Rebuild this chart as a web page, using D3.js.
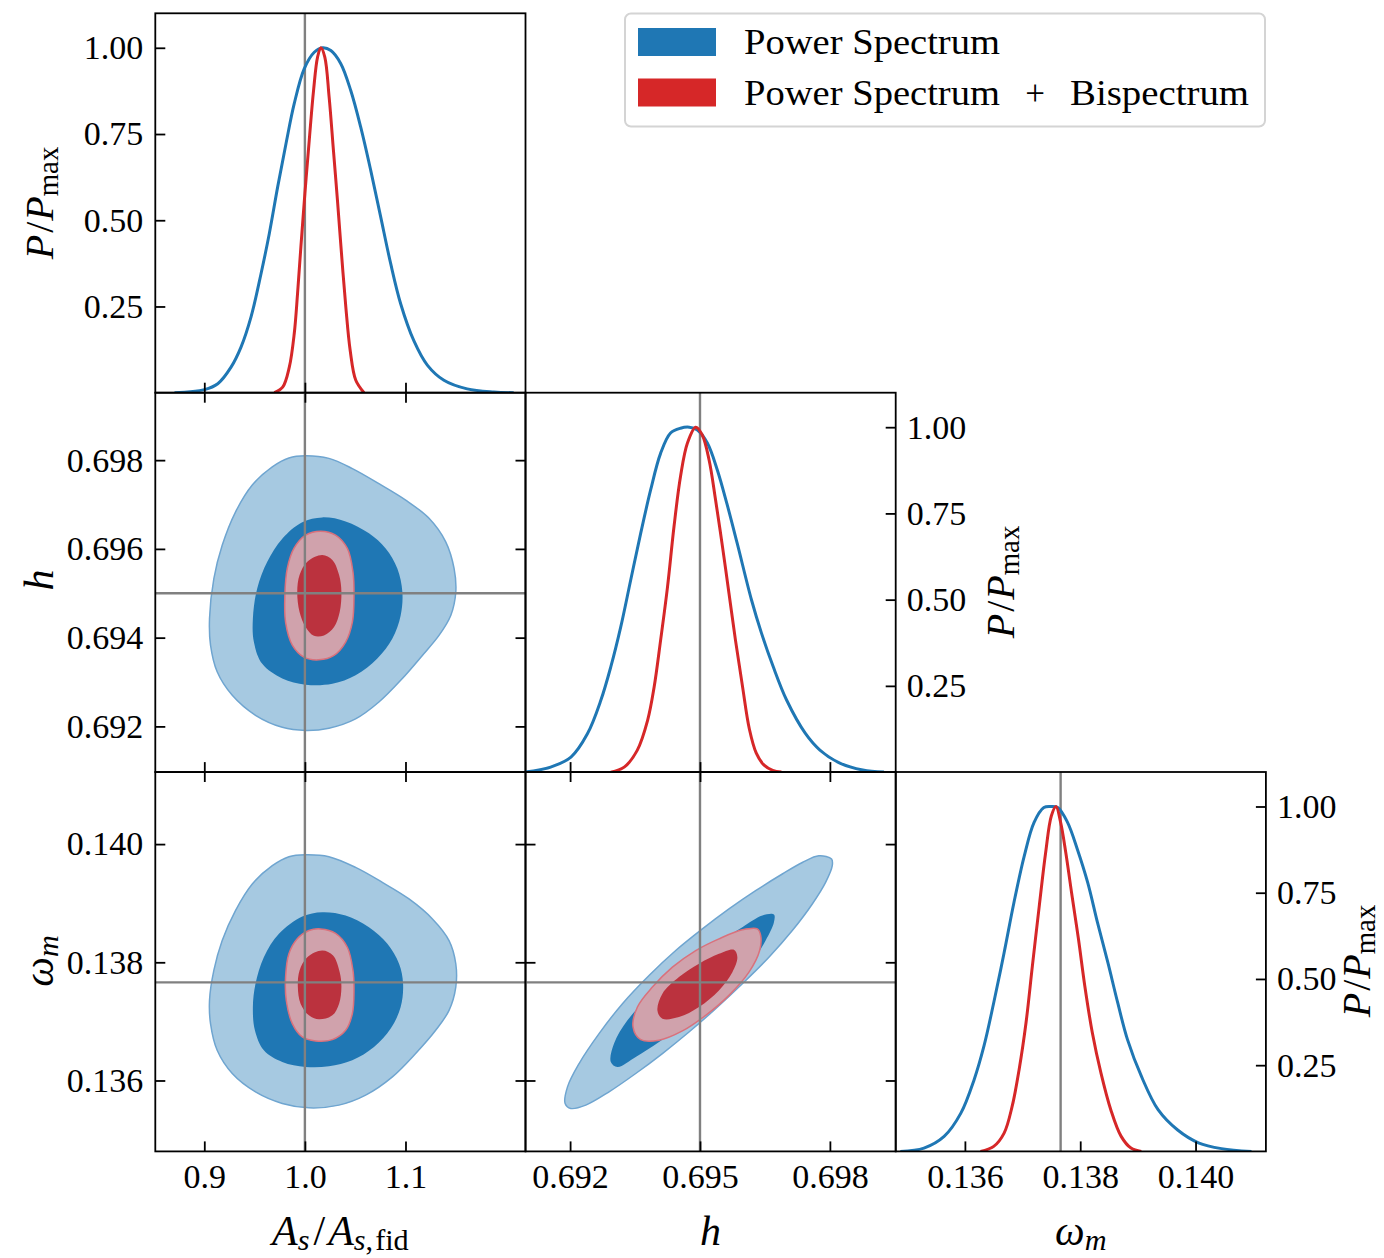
<!DOCTYPE html>
<html>
<head>
<meta charset="utf-8">
<script src="https://cdn.jsdelivr.net/npm/d3@7"></script>
<style>
  body { margin: 0; background: #fff; }
  svg text { font-family: "Liberation Serif", "DejaVu Serif", serif; fill: #000; }
</style>
</head>
<body>
<svg id="chart" width="1384" height="1258"></svg>
<script>
// ---------------- data ----------------
// fiducial parameter values
const fidA = 1.0;
const fidH = 0.695;
const fidOm = 0.13766;

// axis ranges
const aDomain = [0.8513, 1.2193];
const hDomain = [0.69097, 0.69952];
const omDomain = [0.1348, 0.14122];
const pDomain = [0, 1.1];

// tick values
const aTicks = [0.9, 1.0, 1.1];
const hTicksX = [0.692, 0.695, 0.698];
const hTicksY = [0.692, 0.694, 0.696, 0.698];
const omTicks = [0.136, 0.138, 0.140];
const pTicks = [0.25, 0.5, 0.75, 1.0];

// series names
const seriesNames = ["Power Spectrum", "Power Spectrum + Bispectrum"];

// 1D marginals: [parameter, P/Pmax]
const psA1d = [[0.8704,0],[0.9002,0.009],[0.9134,0.026],[0.9266,0.074],[0.9365,0.132],[0.9464,0.219],[0.9564,0.345],[0.9646,0.461],[0.9729,0.596],[0.9812,0.722],[0.9894,0.838],[0.9993,0.939],[1.0093,0.987],[1.0175,1.0],[1.0258,0.992],[1.0357,0.954],[1.0456,0.876],[1.0555,0.770],[1.0655,0.644],[1.0754,0.509],[1.0853,0.374],[1.0952,0.258],[1.1084,0.150],[1.1217,0.080],[1.1382,0.036],[1.1613,0.011],[1.1878,0.002],[1.2076,0]];
const pbA1d = [[0.9696,0],[0.9779,0.016],[0.9845,0.074],[0.9894,0.171],[0.9927,0.287],[0.996,0.422],[1.0,0.577],[1.0043,0.731],[1.0086,0.876],[1.0126,0.973],[1.0159,1.0],[1.0198,0.973],[1.0241,0.857],[1.0284,0.702],[1.0324,0.557],[1.0364,0.403],[1.0407,0.248],[1.045,0.123],[1.0506,0.036],[1.0588,0]];

const psH1d = [[0.69094,0],[0.69155,0.0145],[0.69202,0.0436],[0.6924,0.111],[0.69271,0.208],[0.69294,0.305],[0.69317,0.421],[0.6934,0.557],[0.69363,0.692],[0.69386,0.818],[0.69409,0.924],[0.69432,0.983],[0.69455,0.997],[0.69475,1.0],[0.69494,0.992],[0.69517,0.954],[0.6954,0.876],[0.69562,0.779],[0.69586,0.663],[0.69619,0.499],[0.69642,0.403],[0.69669,0.306],[0.697,0.209],[0.69743,0.113],[0.69777,0.064],[0.69823,0.026],[0.69876,0.006],[0.69925,0]];
const pbH1d = [[0.69294,0],[0.69325,0.0145],[0.69355,0.063],[0.69379,0.15],[0.69394,0.246],[0.69409,0.382],[0.69425,0.537],[0.6944,0.712],[0.69455,0.857],[0.69471,0.954],[0.6949,1.0],[0.69505,0.978],[0.69521,0.905],[0.69536,0.789],[0.69552,0.653],[0.69567,0.518],[0.69582,0.382],[0.69598,0.25],[0.69614,0.125],[0.6963,0.055],[0.69648,0.02],[0.69668,0.005],[0.69688,0]];

const psOm1d = [[0.13488,0],[0.13529,0.0097],[0.13564,0.0436],[0.13593,0.111],[0.13616,0.208],[0.13633,0.305],[0.1365,0.431],[0.13668,0.576],[0.13685,0.721],[0.13703,0.857],[0.1372,0.954],[0.13737,0.997],[0.13749,1.0],[0.13761,0.997],[0.13778,0.954],[0.13795,0.876],[0.13813,0.779],[0.1383,0.663],[0.13848,0.547],[0.13865,0.431],[0.13882,0.324],[0.13906,0.218],[0.13935,0.121],[0.13969,0.062],[0.14005,0.025],[0.14045,0.008],[0.14097,0]];
const pbOm1d = [[0.13627,0],[0.1365,0.0145],[0.13668,0.053],[0.13682,0.131],[0.13694,0.237],[0.13706,0.373],[0.13717,0.537],[0.13729,0.712],[0.1374,0.866],[0.1375,0.973],[0.13758,1.0],[0.13766,0.954],[0.13775,0.866],[0.13785,0.75],[0.13797,0.615],[0.13808,0.479],[0.13821,0.344],[0.13836,0.227],[0.13853,0.121],[0.13871,0.0436],[0.13888,0.0097],[0.13906,0]];

// 2D credible regions (outer = 95%, inner = 68%)
const psAh95 = [[1.0007,0.69810],[1.0239,0.69804],[1.0472,0.69781],[1.0736,0.69747],[1.1002,0.69710],[1.1234,0.69669],[1.1400,0.69616],[1.1483,0.69556],[1.1500,0.69503],[1.1450,0.69450],[1.1333,0.69405],[1.1168,0.69360],[1.0969,0.69308],[1.0736,0.69255],[1.0504,0.69217],[1.0239,0.69196],[1.0007,0.69191],[0.9775,0.69198],[0.9509,0.69225],[0.9278,0.69270],[0.9128,0.69323],[0.9062,0.69383],[0.9052,0.69443],[0.9095,0.69533],[0.9178,0.69608],[0.9310,0.69683],[0.9477,0.69744],[0.9676,0.69785],[0.9841,0.69805]];
const psAh68 = [[1.0173,0.69671],[1.0405,0.69662],[1.0637,0.69635],[1.0803,0.69601],[1.0919,0.69556],[1.0969,0.69503],[1.0952,0.69450],[1.0870,0.69398],[1.0720,0.69353],[1.0504,0.69315],[1.0273,0.69296],[1.0007,0.69294],[0.9775,0.69308],[0.9576,0.69341],[0.9493,0.69390],[0.9483,0.69443],[0.9526,0.69511],[0.9626,0.69571],[0.9775,0.69623],[0.9974,0.69660]];
const pbAh95 = [[1.0156,0.69640],[1.0305,0.69631],[1.0422,0.69601],[1.0478,0.69548],[1.0488,0.69496],[1.0472,0.69435],[1.0405,0.69390],[1.0289,0.69360],[1.0139,0.69350],[0.9990,0.69356],[0.9875,0.69383],[0.9808,0.69435],[0.9801,0.69496],[0.9825,0.69556],[0.9891,0.69601],[1.0007,0.69631]];
const pbAh68 = [[1.0173,0.69586],[1.0273,0.69575],[1.0340,0.69541],[1.0363,0.69503],[1.0346,0.69458],[1.0290,0.69424],[1.0190,0.69405],[1.0090,0.69404],[1.0007,0.69424],[0.9947,0.69458],[0.9924,0.69503],[0.9947,0.69541],[1.0024,0.69571]];

const psAom95 = [[1.0007,0.139819],[1.0239,0.139786],[1.0504,0.139605],[1.0770,0.139352],[1.1035,0.139072],[1.1268,0.138734],[1.1433,0.138368],[1.1500,0.137975],[1.1500,0.137580],[1.1433,0.137186],[1.1300,0.136849],[1.1101,0.136456],[1.0870,0.136061],[1.0604,0.135752],[1.0338,0.135583],[1.0040,0.135538],[0.9775,0.135612],[0.9509,0.135807],[0.9278,0.136118],[0.9128,0.136511],[0.9062,0.136962],[0.9052,0.137355],[0.9095,0.137862],[0.9178,0.138368],[0.9310,0.138875],[0.9477,0.139325],[0.9676,0.139634],[0.9841,0.139786]];
const psAom68 = [[1.0173,0.138846],[1.0405,0.138790],[1.0637,0.138593],[1.0820,0.138312],[1.0936,0.137975],[1.0976,0.137637],[1.0952,0.137243],[1.0853,0.136878],[1.0687,0.136567],[1.0471,0.136343],[1.0239,0.136241],[1.0007,0.136230],[0.9775,0.136314],[0.9592,0.136511],[0.9503,0.136849],[0.9483,0.137243],[0.9509,0.137637],[0.9592,0.138086],[0.9742,0.138481],[0.9974,0.138773]];
const pbAom95 = [[1.0156,0.138565],[1.0305,0.138491],[1.0422,0.138255],[1.0478,0.137862],[1.0488,0.137524],[1.0472,0.137131],[1.0405,0.136849],[1.0273,0.136692],[1.0106,0.136669],[0.9974,0.136736],[0.9875,0.136962],[0.9815,0.137355],[0.9808,0.137749],[0.9841,0.138143],[0.9924,0.138397],[1.0040,0.138537]];
const pbAom68 = [[1.0173,0.138199],[1.0280,0.138115],[1.0346,0.137833],[1.0363,0.137580],[1.0340,0.137300],[1.0273,0.137102],[1.0139,0.137035],[1.0040,0.137102],[0.9957,0.137300],[0.9930,0.137580],[0.9947,0.137862],[1.0024,0.138086]];

const psHom95 = [[0.698039,0.139747],[0.697746,0.139803],[0.697363,0.139689],[0.696901,0.139494],[0.696285,0.139212],[0.695669,0.138903],[0.695055,0.138565],[0.694439,0.138199],[0.693823,0.137777],[0.693209,0.137300],[0.692669,0.136793],[0.692208,0.136287],[0.691940,0.135892],[0.691885,0.135612],[0.692016,0.135527],[0.692362,0.135583],[0.692900,0.135808],[0.693516,0.136118],[0.694132,0.136456],[0.694746,0.136820],[0.695362,0.137215],[0.695978,0.137637],[0.696592,0.138086],[0.697132,0.138537],[0.697594,0.138987],[0.697901,0.139352],[0.698055,0.139634]];
const psHom68 = [[0.696708,0.138807],[0.696440,0.138790],[0.695978,0.138593],[0.695438,0.138339],[0.694901,0.138059],[0.694363,0.137749],[0.693823,0.137411],[0.693325,0.137018],[0.693015,0.136624],[0.692940,0.136314],[0.693094,0.136230],[0.693516,0.136398],[0.694054,0.136651],[0.694594,0.136933],[0.695132,0.137243],[0.695669,0.137580],[0.696170,0.137975],[0.696516,0.138368],[0.696708,0.138677]];
const pbHom95 = [[0.696324,0.138565],[0.695978,0.138549],[0.695438,0.138397],[0.694901,0.138199],[0.694363,0.137917],[0.693901,0.137580],[0.693555,0.137243],[0.693454,0.136905],[0.693632,0.136692],[0.694054,0.136681],[0.694594,0.136838],[0.695132,0.137102],[0.695669,0.137440],[0.696131,0.137833],[0.696378,0.138199],[0.696401,0.138453]];
const pbHom68 = [[0.695785,0.138211],[0.695438,0.138143],[0.694977,0.137975],[0.694515,0.137749],[0.694132,0.137468],[0.694017,0.137186],[0.694132,0.137046],[0.694515,0.137073],[0.694977,0.137243],[0.695438,0.137524],[0.695748,0.137833],[0.695863,0.138086]];

// ---------------- layout & style ----------------
const BLUE = "#1f77b4", RED = "#d62728";
const style = {
  ps95: { fill: "#a6c9e1", stroke: "#6fa5d0" },
  ps68: { fill: "#1f77b4", stroke: "none" },
  pb95: { fill: "#d0a2ac", stroke: "#d9717c" },
  pb68: { fill: "#bb323e", stroke: "none" }
};
const colX = [155.3, 525.5, 895.7], pw = 370.2;
const rowY = [13.3, 392.7, 772.0], ph = 379.4;
const tickLen = 10, tickPad = 12, tickFont = 34, labelFont = 42;

const svg = d3.select("#chart");

const xA = d3.scaleLinear().domain(aDomain).range([colX[0], colX[0] + pw]);
const xH = d3.scaleLinear().domain(hDomain).range([colX[1], colX[1] + pw]);
const xOm = d3.scaleLinear().domain(omDomain).range([colX[2], colX[2] + pw]);
const yH = d3.scaleLinear().domain(hDomain).range([rowY[1] + ph, rowY[1]]);
const yOm = d3.scaleLinear().domain(omDomain).range([rowY[2] + ph, rowY[2]]);
const yP = r => d3.scaleLinear().domain(pDomain).range([rowY[r] + ph, rowY[r]]);

const panels = [
  { r: 0, c: 0, kind: "1d", x: xA, y: yP(0), xt: aTicks, yt: pTicks, xf: ".1f", yf: ".2f", ps: psA1d, pb: pbA1d, fx: fidA },
  { r: 1, c: 0, kind: "2d", x: xA, y: yH, xt: aTicks, yt: hTicksY, xf: ".1f", yf: ".3f",
    regions: [[psAh95, "ps95"], [psAh68, "ps68"], [pbAh95, "pb95"], [pbAh68, "pb68"]], fx: fidA, fy: fidH },
  { r: 1, c: 1, kind: "1d", x: xH, y: yP(1), xt: hTicksX, yt: pTicks, xf: ".3f", yf: ".2f", ps: psH1d, pb: pbH1d, fx: fidH },
  { r: 2, c: 0, kind: "2d", x: xA, y: yOm, xt: aTicks, yt: omTicks, xf: ".1f", yf: ".3f",
    regions: [[psAom95, "ps95"], [psAom68, "ps68"], [pbAom95, "pb95"], [pbAom68, "pb68"]], fx: fidA, fy: fidOm },
  { r: 2, c: 1, kind: "2d", x: xH, y: yOm, xt: hTicksX, yt: omTicks, xf: ".3f", yf: ".3f",
    regions: [[psHom95, "ps95"], [psHom68, "ps68"], [pbHom95, "pb95"], [pbHom68, "pb68"]], fx: fidH, fy: fidOm },
  { r: 2, c: 2, kind: "1d", x: xOm, y: yP(2), xt: omTicks, yt: pTicks, xf: ".3f", yf: ".2f", ps: psOm1d, pb: pbOm1d, fx: fidOm }
];

const contourLine = (x, y) => d3.line().x(d => x(d[0])).y(d => y(d[1])).curve(d3.curveCatmullRomClosed.alpha(0.5));
const curveLine = (x, y) => d3.line().x(d => x(d[0])).y(d => y(d[1])).curve(d3.curveCatmullRom.alpha(0.5));

function styleAxis(g, showLabels) {
  g.select(".domain").remove();
  g.attr("font-family", null).attr("font-size", null);
  g.selectAll(".tick line").attr("stroke", "#000").attr("stroke-width", 1.8);
  g.selectAll(".tick text").attr("font-size", tickFont).attr("fill", "#000");
  if (!showLabels) g.selectAll(".tick text").remove();
}

panels.forEach((p, i) => {
  const x0 = colX[p.c], y0 = rowY[p.r];
  const g = svg.append("g");
  const clipId = "clip" + i;
  svg.append("clipPath").attr("id", clipId)
    .append("rect").attr("x", x0).attr("y", y0).attr("width", pw).attr("height", ph);
  const body = g.append("g").attr("clip-path", `url(#${clipId})`);

  const vLine = () => body.append("line").attr("x1", p.x(p.fx)).attr("x2", p.x(p.fx))
    .attr("y1", y0).attr("y2", y0 + ph).attr("stroke", "#808080").attr("stroke-width", 2.4);

  if (p.kind === "2d") {
    const line = contourLine(p.x, p.y);
    p.regions.forEach(([pts, key]) => {
      body.append("path").attr("d", line(pts))
        .attr("fill", style[key].fill)
        .attr("stroke", style[key].stroke)
        .attr("stroke-width", 1.5);
    });
    vLine();
    body.append("line").attr("y1", p.y(p.fy)).attr("y2", p.y(p.fy)).attr("x1", x0).attr("x2", x0 + pw)
      .attr("stroke", "#808080").attr("stroke-width", 2.4);
  } else {
    vLine();
    const line = curveLine(p.x, p.y);
    body.append("path").attr("d", line(p.ps)).attr("fill", "none").attr("stroke", BLUE)
      .attr("stroke-width", 3).attr("stroke-linejoin", "round");
    body.append("path").attr("d", line(p.pb)).attr("fill", "none").attr("stroke", RED)
      .attr("stroke-width", 3).attr("stroke-linejoin", "round");
  }

  // frame
  g.append("rect").attr("x", x0).attr("y", y0).attr("width", pw).attr("height", ph)
    .attr("fill", "none").attr("stroke", "#000").attr("stroke-width", 1.8);

  // bottom ticks (every panel), labelled on the bottom row
  const bottom = g.append("g").attr("transform", `translate(0,${y0 + ph})`)
    .call(d3.axisBottom(p.x).tickValues(p.xt).tickFormat(d3.format(p.xf)).tickSize(-tickLen).tickPadding(tickPad));
  styleAxis(bottom, p.r === 2);

  if (p.kind === "2d") {
    const top = g.append("g").attr("transform", `translate(0,${y0})`)
      .call(d3.axisTop(p.x).tickValues(p.xt).tickSize(-tickLen));
    styleAxis(top, false);
    const left = g.append("g").attr("transform", `translate(${x0},0)`)
      .call(d3.axisLeft(p.y).tickValues(p.yt).tickFormat(d3.format(p.yf)).tickSize(-tickLen).tickPadding(tickPad));
    styleAxis(left, p.c === 0);
    const right = g.append("g").attr("transform", `translate(${x0 + pw},0)`)
      .call(d3.axisRight(p.y).tickValues(p.yt).tickSize(-tickLen));
    styleAxis(right, false);
  } else if (p.c === 0) {
    const left = g.append("g").attr("transform", `translate(${x0},0)`)
      .call(d3.axisLeft(p.y).tickValues(p.yt).tickFormat(d3.format(p.yf)).tickSize(-tickLen).tickPadding(tickPad));
    styleAxis(left, true);
  } else {
    const right = g.append("g").attr("transform", `translate(${x0 + pw},0)`)
      .call(d3.axisRight(p.y).tickValues(p.yt).tickFormat(d3.format(p.yf)).tickSize(-tickLen).tickPadding(tickPad - 1));
    styleAxis(right, true);
  }
});

// ---------------- axis titles ----------------
const subShift = 5;
function mathText(x, y, rot, segs, size) {
  const t = svg.append("text")
    .attr("transform", `translate(${x},${y}) rotate(${rot})`)
    .attr("text-anchor", "middle").attr("font-size", size);
  let shifted = 0;
  segs.forEach(s => {
    const sp = t.append("tspan").text(s.t);
    if (s.it) sp.attr("font-style", "italic");
    const want = s.sub ? subShift : 0;
    if (want !== shifted) { sp.attr("dy", want - shifted); shifted = want; }
    if (s.sub) sp.attr("font-size", size * 0.72);
    if (s.dx) sp.attr("dx", s.dx);
  });
  return t;
}
const pLabel = [{ t: "P", it: 1 }, { t: "/", dx: 2 }, { t: "P", it: 1, dx: 1 }, { t: "max", sub: 1 }];
const aLabel = [{ t: "A", it: 1 }, { t: "s", it: 1, sub: 1 }, { t: "/", dx: 4 }, { t: "A", it: 1, dx: 3 }, { t: "s", it: 1, sub: 1 }, { t: ",", sub: 1 }, { t: "fid", sub: 1, dx: 2 }];
const hLabel = [{ t: "h", it: 1 }];
const omLabel = [{ t: "ω", it: 1 }, { t: "m", it: 1, sub: 1 }];

mathText(53, 203, -90, pLabel, 40);
mathText(53, 580, -90, hLabel, labelFont);
mathText(53, 961, -90, omLabel, labelFont);
mathText(1014, 582, -90, pLabel, 40);
mathText(1370, 961, -90, pLabel, 40);
mathText(colX[0] + pw / 2, 1245, 0, aLabel, labelFont);
mathText(colX[1] + pw / 2, 1245, 0, hLabel, labelFont);
mathText(colX[2] + pw / 2, 1245, 0, omLabel, labelFont);

// ---------------- legend ----------------
const lg = svg.append("g");
lg.append("rect").attr("x", 625).attr("y", 13.5).attr("width", 640).attr("height", 113).attr("rx", 6)
  .attr("fill", "#fff").attr("stroke", "#d4d4d4").attr("stroke-width", 2);
const legendItems = [
  { color: BLUE, y: 28 },
  { color: RED, y: 78.5 }
];
legendItems.forEach(it => {
  lg.append("rect").attr("x", 638).attr("y", it.y).attr("width", 78).attr("height", 28).attr("fill", it.color);
});
lg.append("text").attr("x", 744).attr("y", 54).attr("font-size", 35)
  .attr("textLength", 256).attr("lengthAdjust", "spacingAndGlyphs").text(seriesNames[0]);
const parts = seriesNames[1].split(" + ");
lg.append("text").attr("x", 744).attr("y", 105).attr("font-size", 35)
  .attr("textLength", 256).attr("lengthAdjust", "spacingAndGlyphs").text(parts[0]);
lg.append("text").attr("x", 1035).attr("y", 105).attr("font-size", 35).attr("text-anchor", "middle").text("+");
lg.append("text").attr("x", 1070).attr("y", 105).attr("font-size", 35)
  .attr("textLength", 179).attr("lengthAdjust", "spacingAndGlyphs").text(parts[1]);
</script>
</body>
</html>
